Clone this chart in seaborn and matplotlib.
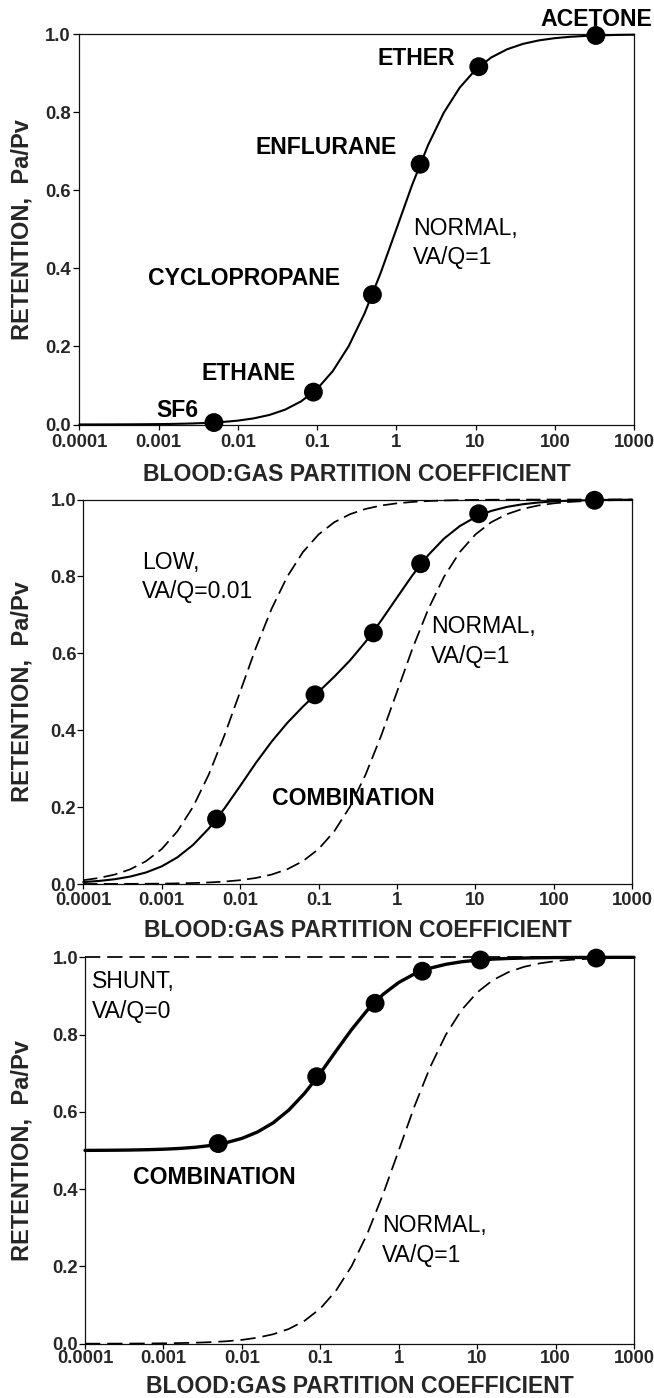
import matplotlib
matplotlib.use("Agg")
import matplotlib.pyplot as plt
import seaborn as sns

# Blood:gas partition coefficient grid (five points per decade)
partition = [
    0.0001, 0.000158, 0.000251, 0.000398, 0.000631,
    0.001, 0.00158, 0.00251, 0.00398, 0.00631,
    0.01, 0.0158, 0.0251, 0.0398, 0.0631,
    0.1, 0.158, 0.251, 0.398, 0.631,
    1.0, 1.58, 2.51, 3.98, 6.31,
    10.0, 15.8, 25.1, 39.8, 63.1,
    100.0, 158.0, 251.0, 398.0, 631.0,
    1000.0,
]

# Retention curves (Pa/Pv)
normal_curve = [
    0.0001, 0.00016, 0.00025, 0.0004, 0.00063,
    0.0010, 0.0016, 0.0025, 0.0040, 0.0063,
    0.0099, 0.0156, 0.0245, 0.0383, 0.0594,
    0.0909, 0.1368, 0.2008, 0.2847, 0.3869,
    0.5000, 0.6132, 0.7153, 0.7992, 0.8632,
    0.9091, 0.9407, 0.9617, 0.9755, 0.9844,
    0.9901, 0.9937, 0.9960, 0.9975, 0.9984,
    0.9990,
]
low_curve = [
    0.0099, 0.0156, 0.0245, 0.0383, 0.0594,
    0.0909, 0.1368, 0.2008, 0.2847, 0.3869,
    0.5000, 0.6132, 0.7153, 0.7992, 0.8632,
    0.9091, 0.9407, 0.9617, 0.9755, 0.9844,
    0.9901, 0.9937, 0.9960, 0.9975, 0.9984,
    0.9990, 0.9994, 0.9996, 0.9997, 0.9998,
    0.9999, 0.9999, 1.0, 1.0, 1.0,
    1.0,
]
low_mix_curve = [
    0.0050, 0.0079, 0.0124, 0.0194, 0.0300,
    0.0459, 0.0692, 0.1017, 0.1443, 0.1966,
    0.2550, 0.3144, 0.3699, 0.4188, 0.4613,
    0.5000, 0.5388, 0.5813, 0.6301, 0.6857,
    0.7451, 0.8035, 0.8557, 0.8984, 0.9308,
    0.9541, 0.9701, 0.9807, 0.9876, 0.9921,
    0.9950, 0.9968, 0.9980, 0.9988, 0.9992,
    0.9995,
]
shunt_mix_curve = [
    0.5003, 0.5005, 0.5008, 0.5013, 0.5021,
    0.5033, 0.5052, 0.5082, 0.5129, 0.5202,
    0.5313, 0.5478, 0.5717, 0.6049, 0.6481,
    0.7000, 0.7569, 0.8131, 0.8632, 0.9040,
    0.9348, 0.9568, 0.9718, 0.9818, 0.9884,
    0.9926, 0.9953, 0.9970, 0.9981, 0.9988,
    0.9993, 0.9995, 0.9997, 0.9998, 0.9999,
    0.9999,
]
shunt_x = [0.0001, 1000.0]
shunt_curve = [1.0, 1.0]

# Measured gases
gas_names = ["SF6", "ETHANE", "CYCLOPROPANE", "ENFLURANE", "ETHER", "ACETONE"]
gas_coeff = [0.005, 0.09, 0.5, 2.0, 11.0, 330.0]
retention_normal = [0.005, 0.083, 0.333, 0.667, 0.917, 0.997]
retention_low_mix = [0.169, 0.492, 0.653, 0.833, 0.963, 0.998]
retention_shunt_mix = [0.518, 0.691, 0.881, 0.964, 0.993, 0.998]

x_ticks = [0.0001, 0.001, 0.01, 0.1, 1, 10, 100, 1000]
x_tick_labels = ["0.0001", "0.001", "0.01", "0.1", "1", "10", "100", "1000"]
y_ticks = [0.0, 0.2, 0.4, 0.6, 0.8, 1.0]
y_tick_labels = ["0.0", "0.2", "0.4", "0.6", "0.8", "1.0"]

X_LABEL = "BLOOD:GAS PARTITION COEFFICIENT"
Y_LABEL = "RETENTION,  Pa/Pv"

sns.set_theme(style="ticks")
plt.rcParams["font.family"] = ["Liberation Sans", "DejaVu Sans"]

W, H = 654, 1398
fig = plt.figure(figsize=(W / 100, H / 100), dpi=100)
fig.patch.set_facecolor("white")

TICK_FS = 13.3
LABEL_FS = 16.6
YLABEL_FS = 17.0
NOTE_FS = 16.6


def make_axes(left, right, top, bottom, xpad, ypad, xlabel_y, top_spine=True):
    ax = fig.add_axes([left / W, 1 - bottom / H, (right - left) / W, (bottom - top) / H])
    ax.set_facecolor("white")
    ax.set_xscale("log")
    ax.set_xlim(0.0001, 1000)
    ax.set_ylim(0.0, 1.0)
    ax.set_xticks(x_ticks, labels=x_tick_labels, fontsize=TICK_FS, fontweight="bold")
    ax.set_yticks(y_ticks, labels=y_tick_labels, fontsize=TICK_FS, fontweight="bold")
    ax.minorticks_off()
    ax.tick_params(axis="x", direction="out", length=3.6, width=0.9, color="black", pad=xpad)
    ax.tick_params(axis="y", direction="out", length=4.0, width=0.9, color="black", pad=ypad)
    for sp in ax.spines.values():
        sp.set_color("#111111")
        sp.set_linewidth(0.9)
    ax.spines["top"].set_visible(top_spine)
    ax.set_xlabel(X_LABEL, fontsize=LABEL_FS, fontweight="bold", va="center")
    ax.set_ylabel(Y_LABEL, fontsize=YLABEL_FS, fontweight="bold", va="center")
    ax.xaxis.set_label_coords(0.5, (bottom - xlabel_y) / (bottom - top))
    ax.yaxis.set_label_coords((21.7 - left) / (right - left), 0.5)
    ax.grid(False)
    return ax


def note(ax, x, y, s, bold):
    ax.text(x, y, s, fontsize=NOTE_FS, fontweight="bold" if bold else "normal",
            ha="left", va="baseline", color="black")


def curve(ax, y, lw, dashes=None, x=None):
    ls = "-" if dashes is None else (0, dashes)
    sns.lineplot(x=partition if x is None else x, y=y, ax=ax, color="black", lw=lw,
                 linestyle=ls, estimator=None, sort=False, clip_on=False, zorder=3)


def gases(ax, y):
    sns.scatterplot(x=gas_coeff, y=y, ax=ax, s=185, color="black", edgecolor="none",
                    clip_on=False, zorder=5, legend=False)


# Panel 1: normal lung
ax1 = make_axes(79.3, 634.0, 34.3, 424.5, xpad=3.3, ypad=2.0, xlabel_y=474.5)
curve(ax1, normal_curve, 1.5)
gases(ax1, retention_normal)
note(ax1, 0.000949, 0.019, "SF6", True)
note(ax1, 0.00351, 0.113, "ETHANE", True)
note(ax1, 0.000743, 0.357, "CYCLOPROPANE", True)
note(ax1, 0.0165, 0.693, "ENFLURANE", True)
note(ax1, 0.577, 0.921, "ETHER", True)
note(ax1, 65.2, 1.021, "ACETONE", True)
note(ax1, 1.64, 0.486, "NORMAL,", False)
note(ax1, 1.64, 0.412, "VA/Q=1", False)

# Panel 2: normal + low VA/Q
ax2 = make_axes(83.3, 632.3, 499.5, 884.0, xpad=1.8, ypad=1.0, xlabel_y=930.3)
curve(ax2, low_curve, 1.25, dashes=(8.2, 3.6))
curve(ax2, normal_curve, 1.25, dashes=(8.2, 3.6))
curve(ax2, low_mix_curve, 1.5)
gases(ax2, retention_low_mix)
note(ax2, 0.000556, 0.818, "LOW,", False)
note(ax2, 0.000556, 0.744, "VA/Q=0.01", False)
note(ax2, 2.69, 0.652, "NORMAL,", False)
note(ax2, 2.69, 0.575, "VA/Q=1", False)
note(ax2, 0.0252, 0.206, "COMBINATION", True)

# Panel 3: normal + shunt
ax3 = make_axes(85.0, 634.0, 957.3, 1343.7, xpad=0.8, ypad=1.0, xlabel_y=1386.7, top_spine=False)
curve(ax3, shunt_curve, 1.25, dashes=(8.8, 4.0), x=shunt_x)
curve(ax3, normal_curve, 1.25, dashes=(8.8, 4.0))
curve(ax3, shunt_mix_curve, 2.4)
gases(ax3, retention_shunt_mix)
note(ax3, 0.000122, 0.920, "SHUNT,", False)
note(ax3, 0.000122, 0.842, "VA/Q=0", False)
note(ax3, 0.000413, 0.4145, "COMBINATION", True)
note(ax3, 0.618, 0.289, "NORMAL,", False)
note(ax3, 0.618, 0.212, "VA/Q=1", False)

fig.savefig("out.png", dpi=100, facecolor="white")
